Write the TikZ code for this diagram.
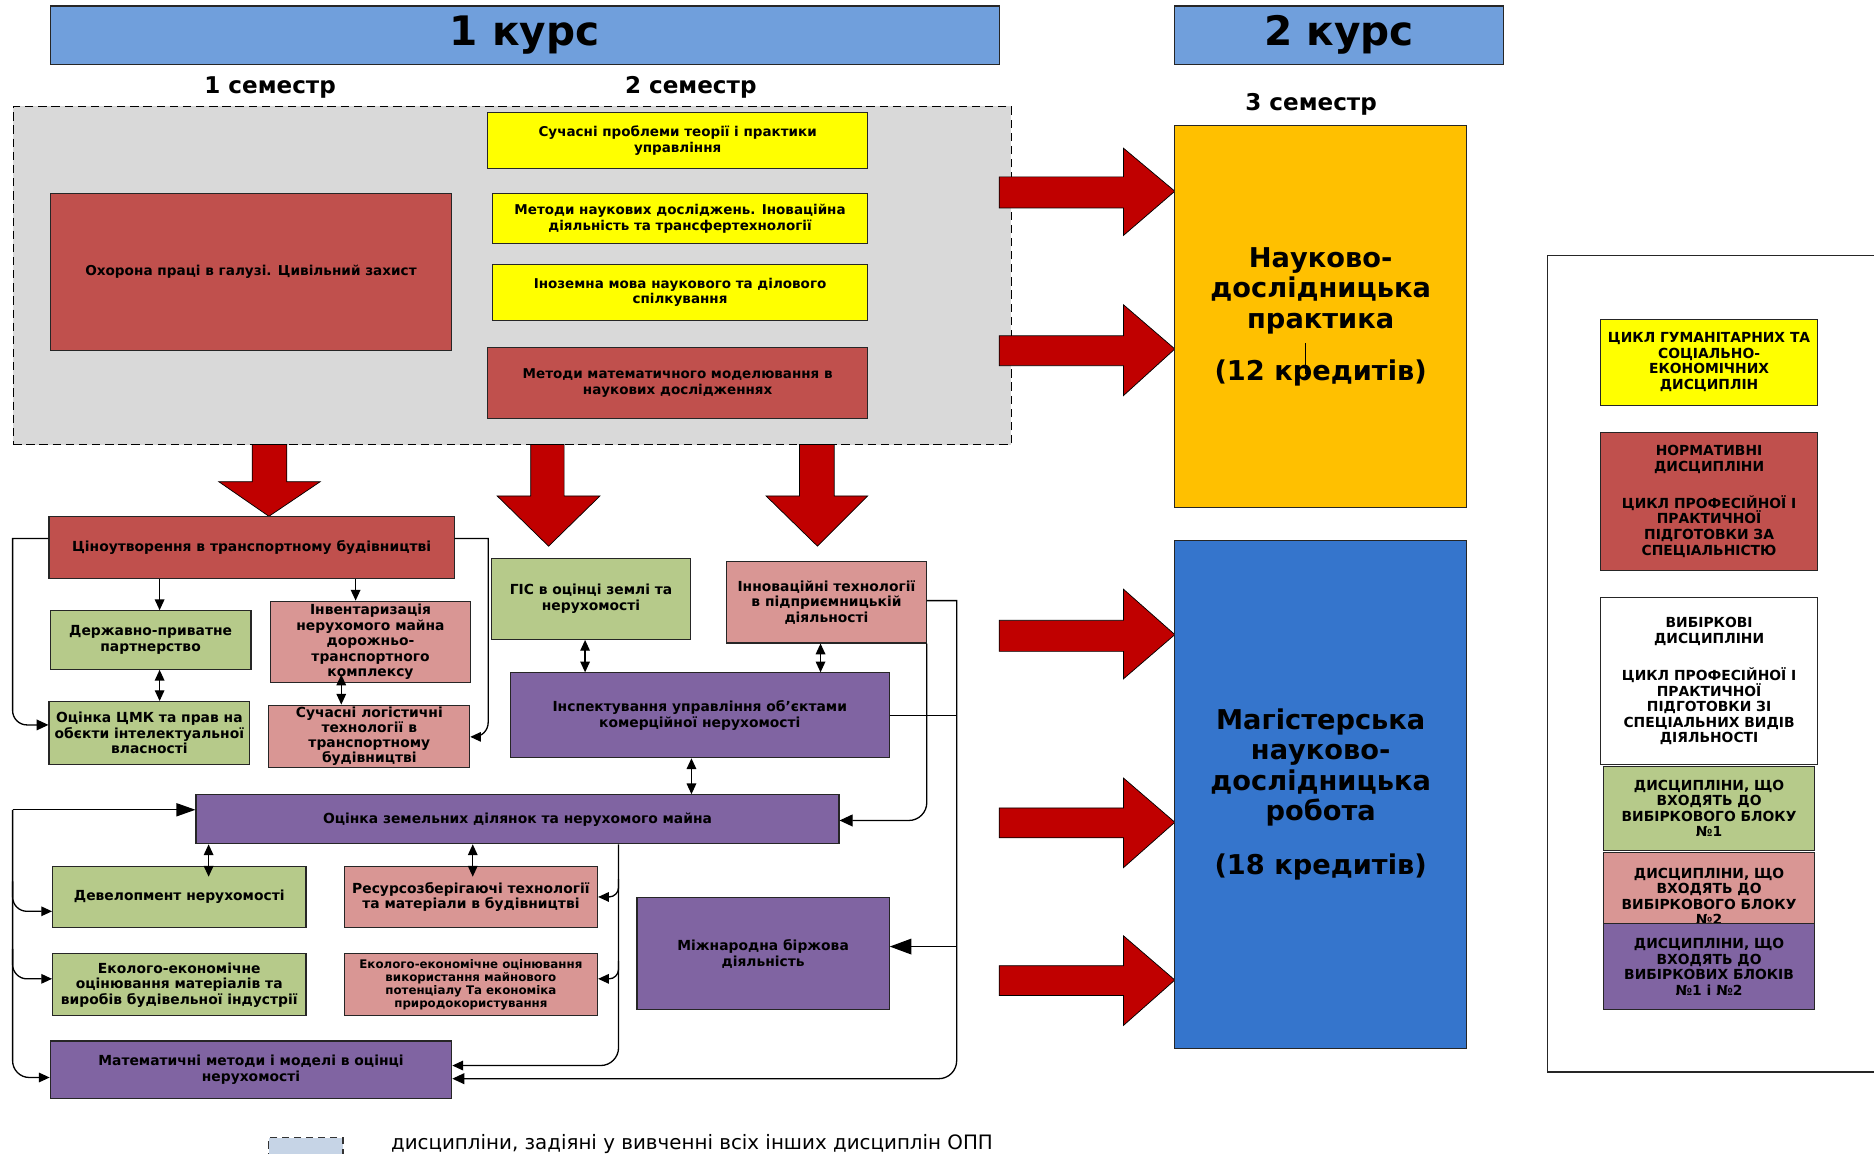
\documentclass[tikz,border=0pt]{standalone}
\usepackage{fontspec}
\setmainfont{DejaVu Sans}
\usetikzlibrary{arrows.meta,calc}
\definecolor{cBar}{RGB}{112,159,220}
\definecolor{cGray}{RGB}{217,217,217}
\definecolor{cYel}{RGB}{255,255,0}
\definecolor{cRed}{RGB}{192,80,77}
\definecolor{cOr}{RGB}{255,192,0}
\definecolor{cBlue}{RGB}{53,117,204}
\definecolor{cGreen}{RGB}{182,202,138}
\definecolor{cPink}{RGB}{217,150,148}
\definecolor{cPurp}{RGB}{128,100,162}
\definecolor{cArr}{RGB}{192,0,0}
\definecolor{cLeg}{RGB}{198,212,230}
\newcommand\putbox[7]{%
  \pgfmathsetmacro\pbx{(#2+#4)/2}%
  \pgfmathsetmacro\pby{(#3+#5)/2}%
  \pgfmathsetmacro\pbw{#4-#2}%
  \pgfmathsetmacro\pbh{#5-#3}%
  \node[#6, minimum width=\pbw pt, minimum height=\pbh pt] (#1) at (\pbx,\pby) {#7};}
\tikzset{
  bx/.style={draw=black!85, line width=0.9pt, align=center, inner sep=0pt,
    font=\bfseries\fontsize{11.6}{13}\selectfont},
  bxs/.style={bx, font=\bfseries\fontsize{11.3}{13}\selectfont},
  yel/.style={bxs, fill=cYel},
  red/.style={bx, fill=cRed},
  grn/.style={bx, fill=cGreen},
  pnk/.style={bx, fill=cPink},
  prp/.style={bx, fill=cPurp},
  leg/.style={bx, font=\bfseries\fontsize{11.6}{13}\selectfont},
  big/.style={bx, font=\bfseries\fontsize{22.8}{25.5}\selectfont},
  hdr/.style={draw=black!85, line width=1pt, fill=cBar, inner sep=0pt,
    font=\bfseries\fontsize{34}{40}\selectfont},
  sem/.style={inner sep=0pt, font=\bfseries\fontsize{19.3}{22}\selectfont},
  ln/.style={line width=1.1pt, draw=black},
  bigar/.style={fill=cArr, draw=black, line width=0.6pt},
  >={Triangle[length=9pt,width=8pt]}
}
\begin{document}
\begin{tikzpicture}[x=1pt,y=-1pt]
\useasboundingbox (0,0) rectangle (1568,965);
% headers
\putbox{k1}{42}{5}{836}{54}{hdr}{1 курс}
\putbox{k2}{983}{5}{1258}{54}{hdr}{2 курс}
\node[sem] (s1) at (226,73) {1 семестр};
\node[sem] (s2) at (578,73) {2 семестр};
\node[sem] (s3) at (1097,87) {3 семестр};
% dashed region
\putbox{grayreg}{11}{89}{846}{372}{draw=black, dash pattern=on 7pt off 4pt, fill=cGray, line width=1pt}{}
\putbox{sp}{408}{94}{726}{141}{yel}{Сучасні проблеми теорії і практики\\управління}
\putbox{mnd}{412}{162}{726}{204}{yel}{Методи наукових досліджень. Іноваційна\\діяльність та трансфертехнології}
\putbox{im}{412}{221}{726}{268}{yel}{Іноземна мова наукового та ділового\\спілкування}
\putbox{mm}{408}{291}{726}{350}{red,font=\bfseries\fontsize{11.3}{13}\selectfont}{Методи математичного моделювання в\\наукових дослідженнях}
\putbox{op}{42}{162}{378}{293}{red,font=\bfseries\fontsize{11.4}{13}\selectfont}{Охорона праці в галузі. Цивільний захист}
% down arrows
\draw[bigar] (211,372) -- (211,403) -- (183,403) -- (225,432) -- (268,403) -- (240,403) -- (240,372) -- cycle;
\draw[bigar] (444,372) -- (444,415) -- (416,415) -- (459,457) -- (502,415) -- (472,415) -- (472,372) -- cycle;
\draw[bigar] (669,372) -- (669,415) -- (641,415) -- (684,457) -- (726,415) -- (698,415) -- (698,372) -- cycle;
% right arrows
\draw[bigar] (836,148) -- (940,148) -- (940,124) -- (983,160) -- (940,197) -- (940,174) -- (836,174) -- cycle;
\draw[bigar] (836,281) -- (940,281) -- (940,255) -- (983,292) -- (940,331) -- (940,306) -- (836,306) -- cycle;
\draw[bigar] (836,519) -- (940,519) -- (940,493) -- (983,531) -- (940,568) -- (940,545) -- (836,545) -- cycle;
\draw[bigar] (836,676) -- (940,676) -- (940,651) -- (983,688) -- (940,726) -- (940,701) -- (836,701) -- cycle;
\draw[bigar] (836,808) -- (940,808) -- (940,783) -- (983,820) -- (940,858) -- (940,833) -- (836,833) -- cycle;
% semester 3 boxes
\putbox{nip}{983}{105}{1227}{425}{big, fill=cOr}{Науково-\\дослідницька\\практика\\[18pt](12 кредитів)}
\draw[line width=0.8pt] (1092,287) -- (1092,313);
\putbox{mndr}{983}{452}{1227}{877}{big, fill=cBlue}{Магістерська\\науково-\\дослідницька\\робота\\[19pt](18 кредитів)}
% lower diagram
\putbox{cin}{41}{432}{380}{484}{red}{Ціноутворення в транспортному будівництві}
\putbox{dpp}{42}{511}{210}{560}{grn}{Державно-приватне\\партнерство}
\putbox{inv}{226}{503}{394}{571}{pnk}{Інвентаризація\\нерухомого майна\\дорожньо-\\транспортного\\комплексу}
\putbox{cmk}{41}{587}{209}{640}{grn}{Оцінка ЦМК та прав на\\обєкти інтелектуальної\\власності}
\putbox{log}{225}{590}{393}{642}{pnk, font=\bfseries\fontsize{11.6}{12.4}\selectfont}{Сучасні логістичні\\технології в\\транспортному\\будівництві}
\putbox{gis}{411}{467}{578}{535}{grn}{ГІС в оцінці землі та\\нерухомості}
\putbox{inn}{608}{470}{775}{538}{pnk}{Інноваційні технології\\в підприємницькій\\діяльності}
\putbox{insp}{427}{563}{744}{634}{prp}{Інспектування управління об'єктами\\комерційної нерухомості}
\putbox{ozd}{164}{665}{702}{706}{prp}{Оцінка земельних ділянок та нерухомого майна}
\putbox{dev}{44}{725}{256}{776}{grn}{Девелопмент нерухомості}
\putbox{res}{288}{725}{500}{776}{pnk}{Ресурсозберігаючі технології\\та матеріали в будівництві}
\putbox{egr}{44}{798}{256}{850}{grn}{Еколого-економічне\\оцінювання матеріалів та\\виробів будівельної індустрії}
\putbox{epk}{288}{798}{500}{850}{pnk, font=\bfseries\fontsize{9.9}{11}\selectfont}{Еколого-економічне оцінювання\\використання майнового\\потенціалу Та економіка\\природокористування}
\putbox{mbd}{533}{751}{744}{845}{prp}{Міжнародна біржова\\діяльність}
\putbox{mat}{42}{871}{378}{919}{prp}{Математичні методи і моделі в оцінці\\нерухомості}
% connectors
\draw[ln, -{Triangle[length=10pt,width=9pt]}] ($(cin.north west)+(0,19)$) -- ++(-30,0) [rounded corners=12pt] -- ($(cmk.north west)+(-30,20)$) -- ($(cmk.north west)+(0,20)$);
\draw[ln, ->] ($(cin.north east)+(0,19)$) -- ++(28,0) [rounded corners=12pt] -- ($(log.north east)+(15,27)$) -- ($(log.north east)+(0,27)$);
\coordinate (p3) at ($(cin.south west)+(93,0)$);
\draw[ln,->] (p3) -- (p3 |- dpp.north);
\coordinate (p4) at ($(cin.south west)+(257,0)$);
\draw[ln,->] (p4) -- (p4 |- inv.north);
\coordinate (p5) at ($(dpp.south west)+(92,0)$);
\draw[ln,<->] (p5) -- (p5 |- cmk.north);
\coordinate (p6) at ($(inv.south west)+(60,-7)$);
\draw[ln,<->] (p6) -- (p6 |- log.north);
\coordinate (p7) at ($(gis.south west)+(79,0)$);
\draw[ln,<->] (p7) -- (p7 |- insp.north);
\coordinate (p8) at ($(inn.south west)+(79,0)$);
\draw[ln,<->] (p8) -- (p8 |- insp.north);
\coordinate (p9) at ($(insp.south west)+(152,0)$);
\draw[ln,<->] (p9) -- (p9 |- ozd.north);
\coordinate (p10) at ($(ozd.south west)+(11,0)$);
\draw[ln,<->] (p10) -- ($(p10 |- dev.north)+(0,9)$);
\coordinate (p11) at ($(ozd.south west)+(232,0)$);
\draw[ln,<->] (p11) -- ($(p11 |- res.north)+(0,9)$);
% right long line
\coordinate (rv) at ($(inn.north east)+(25,33)$);
\coordinate (m2) at ($(mat.north east)+(0,32)$);
\draw[ln, -{Triangle[length=10pt,width=9pt]}] ($(inn.north east)+(0,33)$) -- (rv) [rounded corners=15pt] -- (rv |- m2) -- (m2);
\draw[ln] (insp.east) -- (insp.east -| rv);
\coordinate (m3) at ($(mbd.east)+(0,-6)$);
\draw[ln, -{Triangle[length=18pt,width=13pt]}] (m3 -| rv) -- (m3);
\coordinate (oz1) at ($(ozd.east)+(0,1)$);
\draw[ln, -{Triangle[length=11pt,width=10pt]}, rounded corners=15pt] (inn.south east) -- (inn.south east |- oz1) -- (oz1);
% left loop
\coordinate (lt) at ($(ozd.north west)+(-153,13)$);
\draw[ln, -{Triangle[length=16pt,width=11pt]}] (lt) -- ($(ozd.north west)+(0,13)$);
\coordinate (m1) at ($(mat.north west)+(0,31)$);
\draw[ln, ->, rounded corners=14pt] (lt) -- (lt |- m1) -- (m1);
\coordinate (dv) at ($(dev.west)+(0,12)$);
\draw[ln, ->, rounded corners=12pt] ($(lt |- dv)+(0,-25)$) -- (lt |- dv) -- (dv);
\coordinate (eg) at ($(egr.west)+(0,-5)$);
\draw[ln, ->, rounded corners=12pt] ($(lt |- eg)+(0,-25)$) -- (lt |- eg) -- (eg);
% ozd down line
\coordinate (ov) at ($(ozd.south west)+(354,0)$);
\coordinate (m4) at ($(mat.north east)+(0,21)$);
\draw[ln, ->, rounded corners=15pt] (ov) -- (ov |- m4) -- (m4);
\coordinate (rs) at (res.east);
\draw[ln, ->, rounded corners=8pt] ($(ov |- rs)+(0,-15)$) -- (ov |- rs) -- (rs);
\coordinate (ep) at ($(epk.east)+(0,-5)$);
\draw[ln, ->, rounded corners=8pt] ($(ov |- ep)+(0,-15)$) -- (ov |- ep) -- (ep);
% legend frame
\draw[line width=1pt, draw=black!85] (1568,214) -- (1295,214) -- (1295,897) -- (1568,897);
\putbox{L1}{1339}{267}{1521}{339}{leg, fill=cYel}{ЦИКЛ ГУМАНІТАРНИХ ТА\\СОЦІАЛЬНО-\\ЕКОНОМІЧНИХ\\ДИСЦИПЛІН}
\putbox{L2}{1339}{362}{1521}{477}{leg, fill=cRed}{НОРМАТИВНІ\\ДИСЦИПЛІНИ\\[18pt]ЦИКЛ ПРОФЕСІЙНОЇ І\\ПРАКТИЧНОЇ\\ПІДГОТОВКИ ЗА\\СПЕЦІАЛЬНІСТЮ}
\putbox{L3}{1339}{500}{1521}{640}{leg, fill=white}{ВИБІРКОВІ\\ДИСЦИПЛІНИ\\[18pt]ЦИКЛ ПРОФЕСІЙНОЇ І\\ПРАКТИЧНОЇ\\ПІДГОТОВКИ ЗІ\\СПЕЦІАЛЬНИХ ВИДІВ\\ДІЯЛЬНОСТІ}
\putbox{L4}{1342}{641}{1518}{712}{leg, fill=cGreen}{ДИСЦИПЛІНИ, ЩО\\ВХОДЯТЬ ДО\\ВИБІРКОВОГО БЛОКУ\\№1}
\putbox{L5}{1342}{713}{1518}{773}{leg, fill=cPink}{}
\node[leg, draw=none, fill=none] (L5t) at (1430,750) {ДИСЦИПЛІНИ, ЩО\\ВХОДЯТЬ ДО\\ВИБІРКОВОГО БЛОКУ\\№2};
\putbox{L6}{1342}{773}{1518}{845}{leg, fill=cPurp}{ДИСЦИПЛІНИ, ЩО\\ВХОДЯТЬ ДО\\ВИБІРКОВИХ БЛОКІВ\\№1 і №2}
% bottom legend
\putbox{lbx}{225}{952}{287}{985}{draw=black!80, dash pattern=on 6pt off 4pt, line width=0.9pt, fill=cLeg}{}
\node[anchor=west, inner sep=0pt, font=\fontsize{16.6}{18}\selectfont] (ltxt) at (327,957) {дисципліни, задіяні у вивченні всіх інших дисциплін ОПП};
\end{tikzpicture}
\end{document}
